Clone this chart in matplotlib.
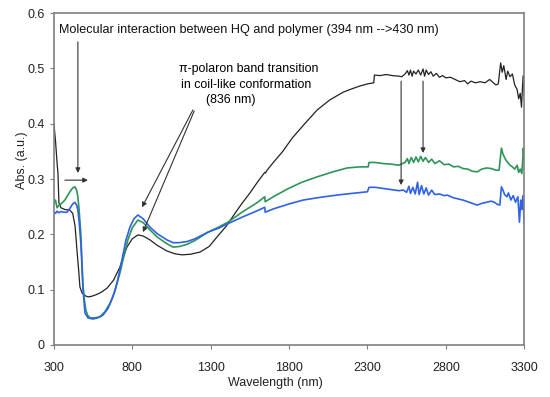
import matplotlib
matplotlib.use("Agg")
import matplotlib.pyplot as plt

plt.rcParams['font.family'] = ['Liberation Sans', 'DejaVu Sans']

# black spectrum
wl_black = [300, 310, 320, 326, 332, 345, 370, 400, 420, 435, 447, 458, 466, 480, 500, 517,
            540, 570, 600, 640, 680, 720, 766, 800, 836, 870, 913, 960, 1021, 1070, 1117,
            1170, 1232, 1290, 1340, 1400, 1455, 1500, 1551, 1600, 1645, 1650, 1660, 1700,
            1760, 1820, 1900, 1980, 2060, 2145, 2200, 2250, 2300, 2340, 2345, 2380, 2420,
            2460, 2500, 2520, 2540, 2555, 2565, 2575, 2585, 2595, 2610, 2625, 2640, 2655,
            2665, 2675, 2690, 2705, 2720, 2740, 2760, 2780, 2800, 2830, 2860, 2890, 2920,
            2940, 2960, 2990, 3020, 3050, 3080, 3100, 3120, 3135, 3150, 3160, 3170, 3185,
            3195, 3210, 3225, 3240, 3255, 3265, 3275, 3283, 3290, 3295, 3300]
abs_black = [0.400, 0.370, 0.330, 0.310, 0.257, 0.248, 0.245, 0.244, 0.238, 0.215, 0.172,
             0.135, 0.105, 0.094, 0.089, 0.087, 0.088, 0.091, 0.095, 0.103, 0.117, 0.140,
             0.177, 0.192, 0.199, 0.197, 0.190, 0.180, 0.170, 0.165, 0.163, 0.164, 0.168,
             0.178, 0.195, 0.215, 0.238, 0.256, 0.275, 0.295, 0.312, 0.311, 0.316, 0.330,
             0.350, 0.374, 0.400, 0.425, 0.443, 0.457, 0.463, 0.468, 0.472, 0.474, 0.488,
             0.487, 0.489, 0.487, 0.486, 0.485, 0.490, 0.496, 0.488, 0.497, 0.486, 0.495,
             0.490, 0.497, 0.488, 0.499, 0.486, 0.497, 0.489, 0.494, 0.486, 0.491, 0.484,
             0.487, 0.483, 0.484, 0.480, 0.476, 0.478, 0.472, 0.477, 0.474, 0.476, 0.474,
             0.480, 0.475, 0.470, 0.472, 0.510, 0.493, 0.505, 0.480, 0.495, 0.485, 0.490,
             0.470, 0.462, 0.445, 0.455, 0.430, 0.470, 0.487, 0.450]

# green spectrum
wl_green = [300, 310, 320, 330, 345, 370, 402, 420, 434, 445, 453, 462, 472, 485, 495, 504,
            515, 530, 560, 594, 625, 657, 690, 721, 750, 772, 800, 836, 870, 913, 960, 1021,
            1060, 1100, 1150, 1200, 1283, 1350, 1410, 1500, 1600, 1645, 1648, 1700, 1790,
            1880, 1980, 2080, 2170, 2250, 2305, 2310, 2350, 2400, 2450, 2500, 2540, 2555,
            2565, 2580, 2595, 2610, 2625, 2640, 2655, 2670, 2690, 2710, 2730, 2760, 2790,
            2820, 2850, 2880, 2910, 2940, 2970, 3000, 3030, 3060, 3090, 3120, 3140, 3155,
            3165, 3180, 3195, 3210, 3225, 3240, 3255, 3265, 3275, 3285, 3290, 3295, 3300]
abs_green = [0.257, 0.262, 0.248, 0.252, 0.255, 0.262, 0.277, 0.284, 0.286, 0.280, 0.268,
             0.240, 0.200, 0.110, 0.080, 0.063, 0.054, 0.049, 0.049, 0.051, 0.060, 0.075,
             0.098, 0.130, 0.165, 0.190, 0.212, 0.226, 0.221, 0.208, 0.195, 0.183, 0.177,
             0.178, 0.182, 0.189, 0.204, 0.213, 0.222, 0.240, 0.258, 0.268, 0.259, 0.268,
             0.282, 0.294, 0.304, 0.313, 0.320, 0.322, 0.322, 0.330, 0.330, 0.328, 0.327,
             0.325, 0.330, 0.337, 0.328, 0.339, 0.330, 0.340, 0.331, 0.341, 0.332, 0.339,
             0.330, 0.336, 0.328, 0.333, 0.326, 0.327, 0.322, 0.323, 0.319, 0.318, 0.314,
             0.313, 0.318, 0.320, 0.319, 0.316, 0.316, 0.356, 0.345, 0.336, 0.330, 0.325,
             0.322, 0.318, 0.325, 0.312, 0.318, 0.310, 0.330, 0.356, 0.335]

# blue spectrum
wl_blue = [300, 310, 320, 330, 345, 370, 383, 402, 420, 434, 445, 453, 462, 472, 485, 498,
           517, 549, 580, 613, 645, 677, 705, 734, 760, 785, 810, 836, 870, 913, 960, 1021,
           1060, 1100, 1150, 1200, 1283, 1350, 1400, 1500, 1600, 1645, 1648, 1700, 1800,
           1890, 2000, 2106, 2200, 2300, 2310, 2350, 2400, 2450, 2500, 2530, 2550, 2565,
           2575, 2590, 2605, 2620, 2630, 2645, 2660, 2675, 2690, 2710, 2730, 2760, 2790,
           2810, 2850, 2880, 2910, 2950, 2980, 3000, 3030, 3060, 3090, 3110, 3130, 3145,
           3155, 3165, 3175, 3190, 3200, 3215, 3230, 3245, 3260, 3270, 3278, 3285, 3292, 3300]
abs_blue = [0.240, 0.238, 0.242, 0.239, 0.241, 0.240, 0.240, 0.247, 0.255, 0.258, 0.253,
            0.244, 0.220, 0.184, 0.105, 0.058, 0.049, 0.047, 0.049, 0.054, 0.066, 0.087,
            0.115, 0.154, 0.190, 0.213, 0.228, 0.235, 0.228, 0.213, 0.201, 0.190, 0.185,
            0.185, 0.187, 0.192, 0.204, 0.211, 0.218, 0.231, 0.243, 0.249, 0.240, 0.246,
            0.255, 0.262, 0.267, 0.271, 0.274, 0.277, 0.285, 0.285, 0.283, 0.281, 0.279,
            0.280, 0.276, 0.287, 0.274, 0.285, 0.273, 0.294, 0.272, 0.288, 0.273, 0.284,
            0.271, 0.280, 0.272, 0.273, 0.270, 0.271, 0.266, 0.264, 0.262, 0.258, 0.255,
            0.253, 0.256, 0.258, 0.260, 0.258, 0.254, 0.253, 0.286, 0.280, 0.272, 0.268,
            0.275, 0.262, 0.270, 0.258, 0.268, 0.222, 0.262, 0.245, 0.270, 0.220]

x_ticks = [300, 800, 1300, 1800, 2300, 2800, 3300]
y_ticks = [0, 0.1, 0.2, 0.3, 0.4, 0.5, 0.6]
y_tick_labels = ['0', '0.1', '0.2', '0.3', '0.4', '0.5', '0.6']

fig = plt.figure(figsize=(5.5, 3.97), dpi=100)
ax = fig.add_axes([0.098, 0.131, 0.855, 0.836])

ax.plot(wl_black, abs_black, color='#222222', lw=0.9)
ax.plot(wl_green, abs_green, color='#2e9458', lw=1.2)
ax.plot(wl_blue, abs_blue, color='#2f62e6', lw=1.2)

ax.set_xlim(300, 3300)
ax.set_ylim(0, 0.6)
ax.set_xticks(x_ticks)
ax.set_yticks(y_ticks)
ax.set_yticklabels(y_tick_labels)
ax.tick_params(labelsize=9, length=3, width=0.8, color='#808080', labelcolor='#222222')
ax.tick_params(axis='x', pad=9)
for s in ax.spines.values():
    s.set_color('#808080')
    s.set_linewidth(1.2)

ax.set_xlabel('Wavelength (nm)', fontsize=9, color='#222222')
ax.set_ylabel('Abs. (a.u.)', fontsize=9, color='#222222')
ax.xaxis.set_label_coords(0.47, -0.096)
ax.yaxis.set_label_coords(-0.055, 0.557)

arrow = dict(arrowstyle='-|>', color='#333333', lw=0.8, mutation_scale=7,
             shrinkA=0, shrinkB=0)

# annotations
ax.text(332, 0.569, 'Molecular interaction between HQ and polymer (394 nm -->430 nm)',
        fontsize=9.1, va='center', ha='left', color='#111111')
ax.annotate('', xy=(453, 0.311), xytext=(453, 0.548), arrowprops=arrow)
ax.annotate('', xy=(517, 0.298), xytext=(370, 0.298), arrowprops=arrow)

ax.text(1545, 0.499, 'π-polaron band transition', fontsize=8.9, ha='center', va='center')
ax.text(1526, 0.470, 'in coil-like conformation', fontsize=8.9, ha='center', va='center')
ax.text(1430, 0.443, '(836 nm)', fontsize=8.9, ha='center', va='center')
ax.annotate('', xy=(862, 0.249), xytext=(1187, 0.425), arrowprops=arrow)
ax.annotate('', xy=(868, 0.204), xytext=(1195, 0.423), arrowprops=arrow)

ax.annotate('', xy=(2515, 0.289), xytext=(2515, 0.477), arrowprops=arrow)
ax.annotate('', xy=(2655, 0.347), xytext=(2655, 0.477), arrowprops=arrow)

fig.savefig('out.png', dpi=100)
